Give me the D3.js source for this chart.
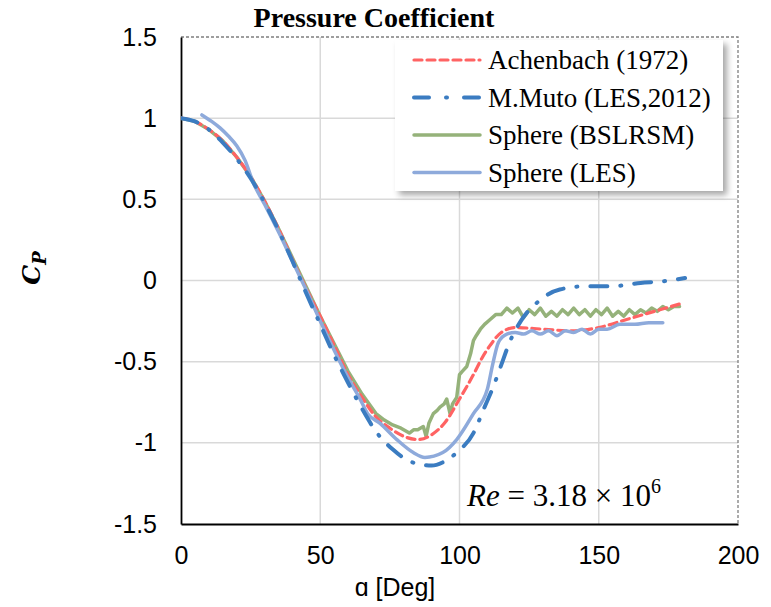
<!DOCTYPE html>
<html><head><meta charset="utf-8">
<script src="https://cdn.jsdelivr.net/npm/d3@7"></script>
<style>body{margin:0;background:#fff}svg{display:block}</style>
</head><body><svg id="c" width="771" height="607"></svg>
<script>
const xTicks = [0, 50, 100, 150, 200];
const yTicks = [-1.5, -1, -0.5, 0, 0.5, 1, 1.5];
const seriesNames = ["Achenbach (1972)", "M.Muto (LES,2012)", "Sphere (BSLRSM)", "Sphere (LES)"];

const achenbach = [[0,1.0],[5,0.98],[10,0.93],[15,0.86],[20,0.76],[25,0.64],[30,0.49],[35,0.32],[40,0.13],[45,-0.05],[50,-0.22],[55,-0.40],[60,-0.58],[65,-0.72],[70,-0.84],[75,-0.91],[80,-0.96],[85,-0.98],[90,-0.95],[95,-0.87],[100,-0.73],[105,-0.58],[108,-0.48],[111,-0.40],[115,-0.32],[120,-0.29],[130,-0.30],[140,-0.31],[150,-0.29],[160,-0.24],[170,-0.19],[180,-0.14]];

const muto = [[0,1.0],[5,0.98],[10,0.93],[15,0.85],[20,0.75],[25,0.63],[30,0.48],[35,0.31],[40,0.12],[45,-0.08],[50,-0.27],[55,-0.46],[60,-0.63],[65,-0.79],[70,-0.93],[76,-1.04],[83,-1.12],[90,-1.14],[94,-1.12],[99,-1.06],[105,-0.94],[109,-0.78],[112,-0.66],[115,-0.52],[118,-0.38],[122,-0.25],[129,-0.12],[136,-0.055],[146,-0.035],[155,-0.035],[165,-0.015],[173,-0.005],[181,0.015]];

const bslrsm = [[0,1.0],[5,0.98],[10,0.93],[15,0.86],[20,0.76],[25,0.64],[30,0.49],[35,0.32],[40,0.14],[45,-0.04],[50,-0.22],[55,-0.39],[60,-0.56],[65,-0.70],[70,-0.82],[73,-0.86],[76,-0.89],[79,-0.91],[82,-0.94],[83.5,-0.92],[85,-0.92],[87,-0.90],[88,-0.96],[89,-0.88],[90.6,-0.82],[92,-0.80],[93,-0.78],[94.5,-0.76],[95.4,-0.73],[96.6,-0.82],[97.5,-0.76],[99,-0.72],[100,-0.58],[101,-0.56],[102.6,-0.53],[104,-0.45],[105,-0.37],[106,-0.34],[107.5,-0.30],[109,-0.27],[111,-0.24],[113,-0.21],[115,-0.21],[117,-0.17],[119,-0.20],[121,-0.17],[123,-0.23],[125,-0.18],[127,-0.21],[129,-0.17],[131,-0.22],[133,-0.19],[135,-0.22],[137,-0.18],[139,-0.21],[141,-0.17],[143,-0.21],[145,-0.18],[147,-0.22],[149,-0.18],[151,-0.21],[153,-0.17],[155,-0.22],[157,-0.19],[159,-0.22],[161,-0.18],[163,-0.21],[165,-0.18],[167,-0.20],[169,-0.17],[171,-0.19],[173,-0.16],[175,-0.18],[177,-0.16],[179,-0.16]];

const les = [[7.5,1.02],[11,0.98],[14,0.94],[17,0.89],[20,0.83],[23,0.74],[26,0.60],[30,0.47],[35,0.30],[40,0.12],[45,-0.06],[50,-0.25],[55,-0.43],[60,-0.60],[64,-0.72],[67,-0.82],[71.5,-0.88],[77.5,-0.98],[83.4,-1.06],[87.6,-1.09],[94,-1.06],[99,-0.98],[105,-0.82],[110,-0.67],[112,-0.51],[114,-0.38],[117,-0.33],[120,-0.32],[123,-0.33],[126,-0.31],[129,-0.33],[132,-0.31],[135,-0.34],[138,-0.31],[141,-0.32],[144,-0.30],[147,-0.33],[150,-0.30],[153,-0.30],[157.6,-0.27],[163,-0.27],[168,-0.26],[173,-0.26]];

const svg = d3.select("#c");
const L = 181, R = 738, T = 37, B = 524;
const x = d3.scaleLinear().domain([0, 200]).range([L, R]);
const y = d3.scaleLinear().domain([-1.5, 1.5]).range([B, T]);

const defs = svg.append("defs");
const f = defs.append("filter").attr("id","sh").attr("x","-10%").attr("y","-10%").attr("width","130%").attr("height","130%");
f.append("feDropShadow").attr("dx",4).attr("dy",4).attr("stdDeviation",3).attr("flood-color","#000").attr("flood-opacity",0.35);
defs.append("clipPath").attr("id","clip").append("rect").attr("x",L).attr("y",T).attr("width",R-L).attr("height",B-T);

// gridlines
svg.append("g").selectAll("line").data(xTicks.filter(d => d > 0 && d < 200)).join("line")
  .attr("x1", d => x(d)).attr("x2", d => x(d)).attr("y1", T).attr("y2", B)
  .attr("stroke", "#d9d9d9").attr("stroke-width", 1.5);
svg.append("g").selectAll("line").data(yTicks.filter(d => d > -1.5 && d < 1.5)).join("line")
  .attr("y1", d => y(d)).attr("y2", d => y(d)).attr("x1", L).attr("x2", R)
  .attr("stroke", "#d9d9d9").attr("stroke-width", 1.5);

// border top/right dashed
svg.append("path").attr("d", `M${L},${T}H${R}V${B}`).attr("fill","none")
  .attr("stroke","#7f7f7f").attr("stroke-width",1.3).attr("stroke-dasharray","3,2");

// axes
const xAxis = svg.append("g").attr("transform", `translate(0,${B})`)
  .call(d3.axisBottom(x).tickValues(xTicks).tickSize(0).tickPadding(22).tickFormat(d3.format("d")));
xAxis.select(".domain").attr("stroke","#000").attr("stroke-width",1.8);
xAxis.selectAll("text").attr("font-family","Liberation Sans, Arial, sans-serif").attr("font-size",25).attr("fill","#000");
const yAxis = svg.append("g").attr("transform", `translate(${L},0)`)
  .call(d3.axisLeft(y).tickValues(yTicks).tickSize(0).tickPadding(24).tickFormat(d => String(d)));
yAxis.select(".domain").attr("stroke","#000").attr("stroke-width",1.8);
yAxis.selectAll("text").attr("font-family","Liberation Sans, Arial, sans-serif").attr("font-size",25).attr("fill","#000");

// lines
const line = d3.line().x(d => x(d[0])).y(d => y(d[1]));
const g = svg.append("g").attr("clip-path","url(#clip)");
const styles = [
  {data: achenbach, color: "#ff6363", width: 3.2, dash: "8,5", curve: d3.curveMonotoneX},
  {data: muto, color: "#3b7cc1", width: 4, dash: "17,13,1,13", curve: d3.curveMonotoneX},
  {data: bslrsm, color: "#95b27a", width: 3.5, dash: null, curve: d3.curveLinear},
  {data: les, color: "#8eaadb", width: 3.5, dash: null, curve: d3.curveMonotoneX}
];
const order = [2, 0, 3, 1];
order.forEach(i => {
  const s = styles[i];
  g.append("path").datum(s.data).attr("d", line.curve(s.curve))
    .attr("fill","none").attr("stroke", s.color).attr("stroke-width", s.width)
    .attr("stroke-dasharray", s.dash).attr("stroke-linecap","round").attr("stroke-linejoin","round");
});

// legend
const lg = svg.append("g");
lg.append("rect").attr("x",395).attr("y",40).attr("width",328).attr("height",151)
  .attr("fill","#fff").attr("filter","url(#sh)");
seriesNames.forEach((name, i) => {
  const s = styles[i];
  const yy = 60 + i * 37.5;
  lg.append("line").attr("x1",414).attr("x2",480).attr("y1",yy).attr("y2",yy)
    .attr("stroke", s.color).attr("stroke-width", s.width)
    .attr("stroke-dasharray", i === 1 ? "15,17,1,17,15" : s.dash).attr("stroke-linecap","round");
  lg.append("text").attr("x",488).attr("y",yy).attr("dy","0.35em")
    .attr("font-family","Liberation Serif, Times New Roman, serif").attr("font-size",27).attr("fill","#000")
    .text(name);
});

// title
svg.append("text").attr("x",374).attr("y",27).attr("text-anchor","middle")
  .attr("font-family","Liberation Serif, Times New Roman, serif").attr("font-weight","bold").attr("font-size",28)
  .text("Pressure Coefficient");

// x label
svg.append("text").attr("x",395).attr("y",596).attr("text-anchor","middle")
  .attr("font-family","Liberation Sans, Arial, sans-serif").attr("font-size",25).text("ɑ [Deg]");

// y label
const yl = svg.append("text").attr("transform","translate(40,268) rotate(-90)").attr("text-anchor","middle")
  .attr("font-family","DejaVu Serif, serif").attr("font-weight","bold").attr("font-style","italic").attr("font-size",25);
yl.append("tspan").text("C");
yl.append("tspan").attr("font-size",18).attr("dy",6).text("P");

// annotation
const an = svg.append("text").attr("x",467).attr("y",506)
  .attr("font-family","Liberation Serif, Times New Roman, serif").attr("font-size",31);
an.append("tspan").attr("font-style","italic").text("Re");
an.append("tspan").text(" = 3.18 × 10");
an.append("tspan").attr("font-size",20).attr("dy",-13).text("6");
</script></body></html>
